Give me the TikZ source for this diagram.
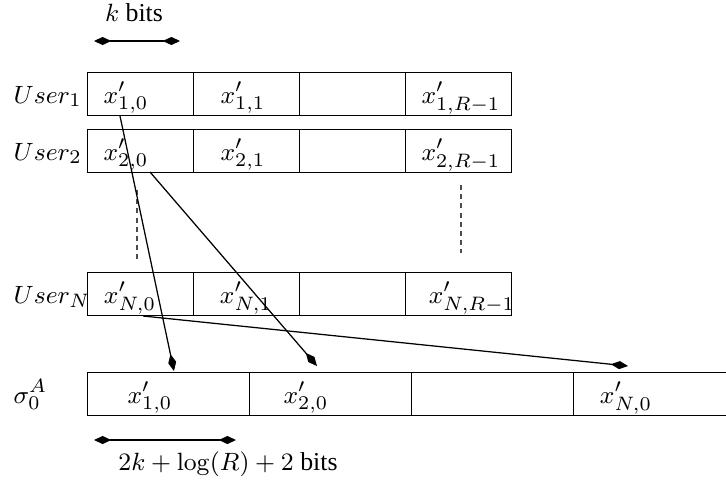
\documentclass[tikz,border=0pt]{standalone}
\usepackage[no-math]{fontspec}
\setmainfont{Liberation Serif}
\usetikzlibrary{arrows.meta,calc}
\begin{document}
\begin{tikzpicture}[x=0.36pt,y=-0.36pt,line width=0.45pt,
  font=\fontsize{9.3}{11}\selectfont,
  cell/.style={draw,rectangle,inner sep=0pt,anchor=north west,minimum width=38.16pt,minimum height=15.48pt},
  bcell/.style={draw,rectangle,inner sep=0pt,anchor=north west,minimum width=58.32pt,minimum height=15.48pt},
  lbl/.style={inner sep=0pt,anchor=base},
  rowlbl/.style={inner sep=0pt,anchor=base west},
  tip/.tip={Kite[length=6.2pt,width=2.9pt,inset=3.1pt]},
  conn/.style={-tip},
  dim/.style={tip-tip},
  dotted rule/.style={draw=black!70,dash pattern=on 1.8pt off 1.5pt}]
\clip (0,0) rectangle (726,483);
% user rows
\foreach \r/\t in {1/72,2/129,N/272}{
  \foreach \c/\x in {0/87,1/193,2/299,3/405}{
    \node[cell] (u\r c\c) at (\x,\t) {};
  }
}
% bottom row
\foreach \c/\x in {0/87,1/249,2/411,3/573}{
  \node[bcell] (b\c) at (\x,372) {};
}
% row labels
\node[rowlbl] (l1) at (13,103) {$User_1$};
\node[rowlbl] (l2) at (13,160) {$User_2$};
\node[rowlbl] (lN) at (13,303) {$User_N$};
\node[rowlbl] (ls) at (13,403) {$\sigma_0^A$};
% cell texts
\node[lbl] (x10) at (126,103) {$x'_{1,0}$};
\node[lbl] (x11) at (243,103) {$x'_{1,1}$};
\node[lbl] (x1R) at (461,103) {$x'_{1,R-1}$};
\node[lbl] (x20) at (126,160) {$x'_{2,0}$};
\node[lbl] (x21) at (243,160) {$x'_{2,1}$};
\node[lbl] (x2R) at (461,160) {$x'_{2,R-1}$};
\node[lbl] (xN0) at (130,303) {$x'_{N,0}$};
\node[lbl] (xN1) at (246,303) {$x'_{N,1}$};
\node[lbl] (xNR) at (472,303) {$x'_{N,R-1}$};
\node[lbl] (y10) at (150,403) {$x'_{1,0}$};
\node[lbl] (y20) at (306,403) {$x'_{2,0}$};
\node[lbl] (yN0) at (626,403) {$x'_{N,0}$};
% dimension labels
\node[lbl] (kb) at (134,22) {$k$ bits};
\coordinate (ka) at (94,41);
\coordinate (kz) at (180,41);
\draw[dim] (ka) -- (kz);
\node[lbl] (bb) at (228,470) {$2k+\log(R)+2$ bits};
\coordinate (ba) at (94,440);
\coordinate (bz) at (236,440);
\draw[dim] (ba) -- (bz);
% dashed continuation marks
\coordinate (d1a) at (137,190);
\coordinate (d1b) at (137,259);
\coordinate (d2a) at (461,185);
\coordinate (d2b) at (461,253);
\draw[dotted rule] (d1a) -- (d1b);
\draw[dotted rule] (d2a) -- (d2b);
% connectors
\coordinate (s1) at (120,116);
\coordinate (e1) at (174,371);
\coordinate (s2) at (150,172);
\coordinate (e2) at (317,366);
\coordinate (s3) at (143,316);
\coordinate (e3) at (628,366);
\draw[conn] (s1) -- (e1);
\draw[conn] (s2) -- (e2);
\draw[conn] (s3) -- (e3);
\end{tikzpicture}
\end{document}
